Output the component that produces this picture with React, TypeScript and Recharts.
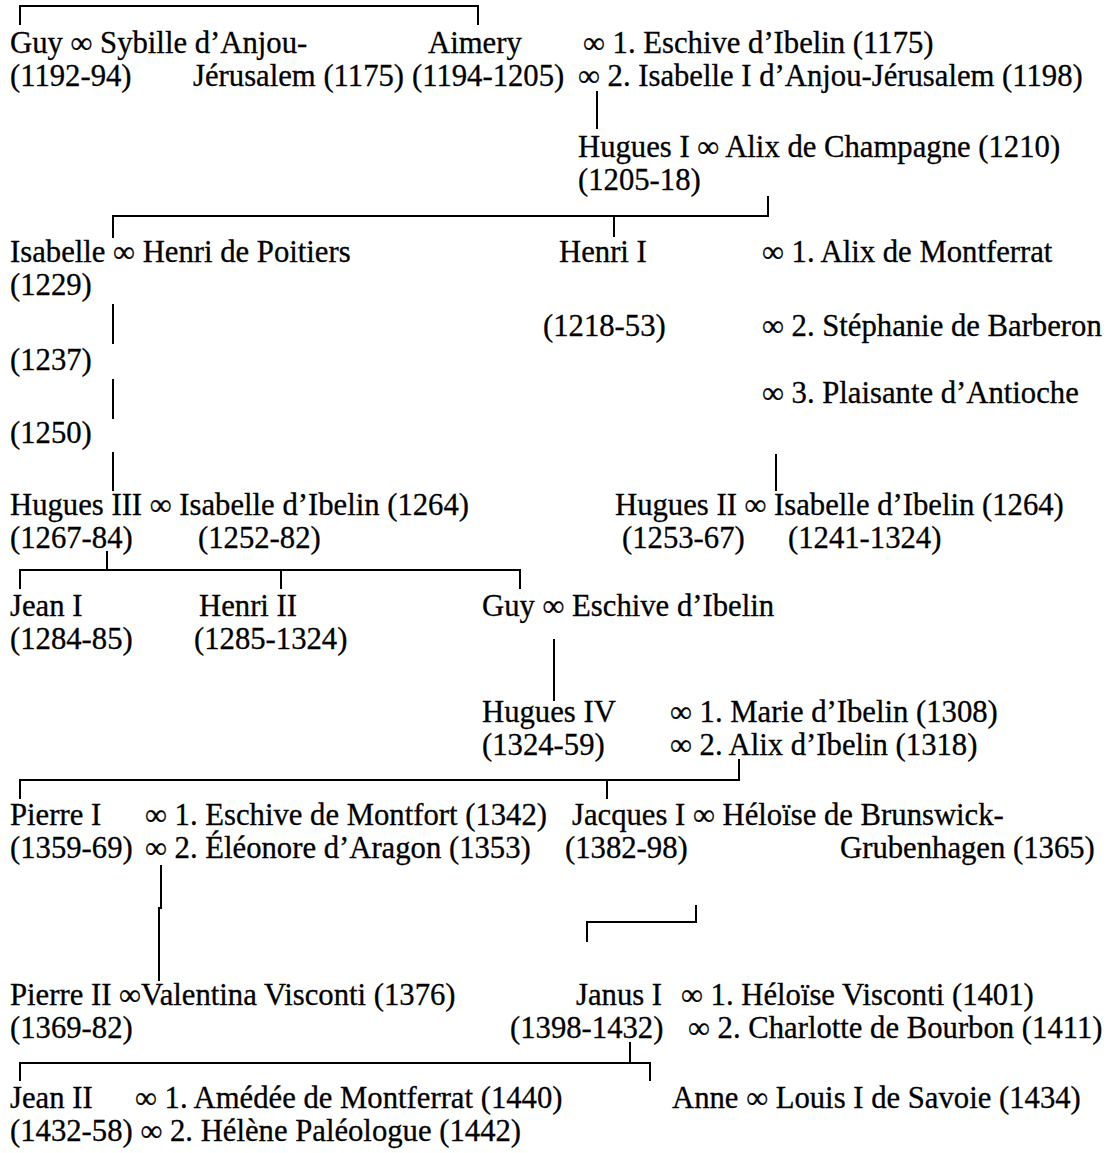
import React from 'react';
import { ScatterChart, Scatter, XAxis, YAxis, ReferenceLine } from 'recharts';

// family tree of the Lusignan kings of Cyprus
// each label: left edge + baseline, in the chart's own units
const names = [
  { x: 10, y: 53, text: 'Guy ∞ Sybille d’Anjou-' },
  { x: 10, y: 86, text: '(1192-94)' },
  { x: 193, y: 86, text: 'Jérusalem (1175)' },
  { x: 428, y: 53, text: 'Aimery' },
  { x: 412, y: 86, text: '(1194-1205)' },
  { x: 583, y: 53, text: '∞ 1. Eschive d’Ibelin (1175)' },
  { x: 578, y: 86, text: '∞ 2. Isabelle I d’Anjou-Jérusalem (1198)' },
  { x: 578, y: 157, text: 'Hugues I ∞ Alix de Champagne (1210)' },
  { x: 578, y: 190, text: '(1205-18)' },

  { x: 10, y: 262, text: 'Isabelle ∞ Henri de Poitiers' },
  { x: 10, y: 295, text: '(1229)' },
  { x: 10, y: 370, text: '(1237)' },
  { x: 10, y: 443, text: '(1250)' },
  { x: 559, y: 262, text: 'Henri I' },
  { x: 543, y: 336, text: '(1218-53)' },
  { x: 762, y: 262, text: '∞ 1. Alix de Montferrat' },
  { x: 762, y: 336, text: '∞ 2. Stéphanie de Barberon' },
  { x: 762, y: 403, text: '∞ 3. Plaisante d’Antioche' },

  { x: 10, y: 515, text: 'Hugues III ∞ Isabelle d’Ibelin (1264)' },
  { x: 10, y: 548, text: '(1267-84)' },
  { x: 198, y: 548, text: '(1252-82)' },
  { x: 615, y: 515, text: 'Hugues II ∞ Isabelle d’Ibelin (1264)' },
  { x: 622, y: 548, text: '(1253-67)' },
  { x: 788, y: 548, text: '(1241-1324)' },

  { x: 10, y: 616, text: 'Jean I' },
  { x: 10, y: 649, text: '(1284-85)' },
  { x: 199, y: 616, text: 'Henri II' },
  { x: 194, y: 649, text: '(1285-1324)' },
  { x: 482, y: 616, text: 'Guy ∞ Eschive d’Ibelin' },
  { x: 482, y: 722, text: 'Hugues IV' },
  { x: 482, y: 755, text: '(1324-59)' },
  { x: 670, y: 722, text: '∞ 1. Marie d’Ibelin (1308)' },
  { x: 670, y: 755, text: '∞ 2. Alix d’Ibelin (1318)' },

  { x: 10, y: 825, text: 'Pierre I' },
  { x: 10, y: 858, text: '(1359-69)' },
  { x: 145, y: 825, text: '∞ 1. Eschive de Montfort (1342)' },
  { x: 145, y: 858, text: '∞ 2. Éléonore d’Aragon (1353)' },
  { x: 572, y: 825, text: 'Jacques I ∞ Héloïse de Brunswick-' },
  { x: 565, y: 858, text: '(1382-98)' },
  { x: 840, y: 858, text: 'Grubenhagen (1365)' },

  { x: 10, y: 1005, text: 'Pierre II ∞Valentina Visconti (1376)' },
  { x: 10, y: 1038, text: '(1369-82)' },
  { x: 576, y: 1005, text: 'Janus I' },
  { x: 510, y: 1038, text: '(1398-1432)' },
  { x: 681, y: 1005, text: '∞ 1. Héloïse Visconti (1401)' },
  { x: 688, y: 1038, text: '∞ 2. Charlotte de Bourbon (1411)' },

  { x: 10, y: 1108, text: 'Jean II' },
  { x: 135, y: 1108, text: '∞ 1. Amédée de Montferrat (1440)' },
  { x: 10, y: 1141, text: '(1432-58) ∞ 2. Hélène Paléologue (1442)' },
  { x: 672, y: 1108, text: 'Anne ∞ Louis I de Savoie (1434)' },
];

// connecting lines: [x1, y1, x2, y2]
const links = [
  [20, 6, 478, 6], [20, 6, 20, 24], [478, 6, 478, 24],
  [597, 92, 597, 128],
  [113, 216, 768, 216], [768, 197, 768, 216], [614, 216, 614, 236], [113, 216, 113, 237],
  [113, 305, 113, 343], [113, 380, 113, 418], [113, 453, 113, 490],
  [776, 455, 776, 490],
  [107, 552, 107, 570], [20, 570, 520, 570], [20, 570, 20, 588], [281, 570, 281, 588], [520, 570, 520, 588],
  [554, 640, 554, 700],
  [739, 760, 739, 780], [20, 780, 739, 780], [607, 780, 607, 798], [20, 780, 20, 798],
  [161, 866, 161, 908], [159, 908, 159, 980],
  [696, 906, 696, 922], [587, 922, 696, 922], [587, 922, 587, 941],
  [630, 1043, 630, 1063], [20, 1063, 650, 1063], [650, 1063, 650, 1080], [20, 1063, 20, 1080],
];

const W = 1115;
const H = 1153;

const NameLabel = (props: any) => {
  const { cx, cy, payload } = props;
  return (
    <text
      x={cx}
      y={cy}
      fill="#000"
      stroke="#000"
      strokeWidth={0.3}
      fontSize={30.7}
      fontFamily="'Liberation Serif', 'Times New Roman', serif"
    >
      {payload.text}
    </text>
  );
};

const App = () => {
  return (
    <div style={{ position: 'absolute', left: 0, top: 0, background: '#fff' }}>
      <ScatterChart width={W} height={H} margin={{ top: 0, right: 0, bottom: 0, left: 0 }}>
        <XAxis type="number" dataKey="x" domain={[0, W]} hide />
        <YAxis type="number" dataKey="y" domain={[0, H]} reversed hide />
        {links.map((l, i) => (
          <ReferenceLine
            key={i}
            segment={[{ x: l[0], y: l[1] }, { x: l[2], y: l[3] }]}
            stroke="#000"
            strokeWidth={2}
            strokeLinecap="square"
          />
        ))}
        <Scatter data={names} shape={<NameLabel />} isAnimationActive={false} />
      </ScatterChart>
    </div>
  );
};

export default App;
